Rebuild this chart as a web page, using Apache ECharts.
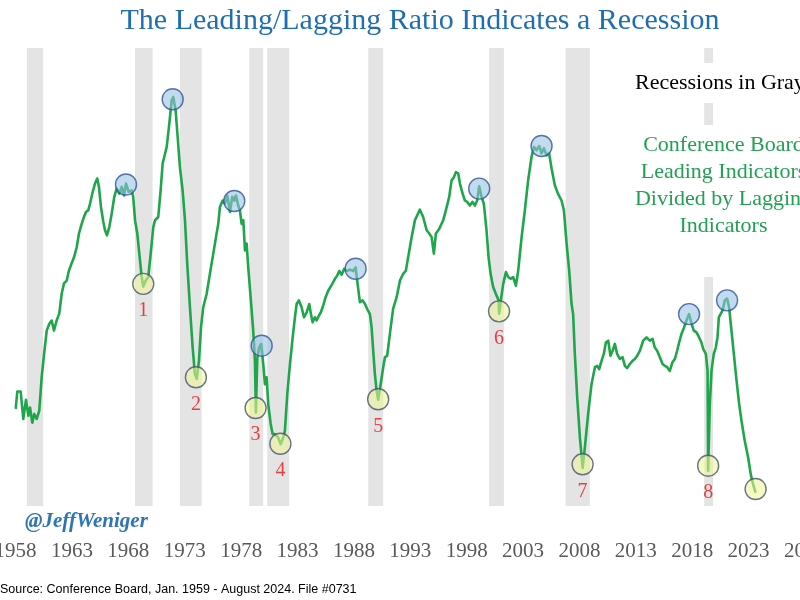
<!DOCTYPE html>
<html>
<head>
<meta charset="utf-8">
<script src="https://cdn.jsdelivr.net/npm/echarts@6/dist/echarts.min.js"></script>
<style>html,body{margin:0;padding:0;background:#fff;}#chart{width:800px;height:600px;}</style>
</head>
<body>
<div id="chart"></div>
<script>
// Axis tick labels as printed under the chart (every 5 years)
const TICK_LABELS = ['1958','1963','1968','1973','1978','1983','1988','1993','1998','2003','2008','2013','2018','2023','2028'];
// First plotted month sits under the first tick label
const X_ORIGIN = 1959;

// Leading / Lagging ratio (relative scale)
const YEARS = [
1959.01,1959.15,1959.45,1959.68,1959.92,1960.13,1960.28,1960.48,1960.66,1960.87,
1961.10,1961.31,1961.54,1961.76,1961.99,1962.20,1962.40,1962.64,1962.87,1963.09,
1963.29,1963.53,1963.73,1963.97,1964.18,1964.42,1964.62,1964.86,1965.06,1965.24,
1965.45,1965.60,1965.84,1966.04,1966.24,1966.39,1966.57,1966.78,1966.93,1967.10,
1967.31,1967.52,1967.75,1967.96,1968.19,1968.41,1968.61,1968.79,1969.03,1969.29,
1969.43,1969.59,1969.79,1969.97,1970.18,1970.32,1970.53,1970.76,1970.98,1971.21,
1971.36,1971.65,1971.86,1972.04,1972.18,1972.40,1972.63,1972.84,1972.98,1973.19,
1973.37,1973.57,1973.81,1974.02,1974.22,1974.46,1974.70,1974.90,1975.06,1975.26,
1975.44,1975.64,1975.94,1976.23,1976.53,1976.77,1976.97,1977.12,1977.36,1977.56,
1977.77,1978.01,1978.21,1978.39,1978.54,1978.74,1978.89,1979.04,1979.19,1979.34,
1979.49,1979.63,1979.84,1980.07,1980.22,1980.31,1980.43,1980.60,1980.78,1980.96,
1981.11,1981.26,1981.40,1981.62,1981.79,1982.00,1982.29,1982.50,1982.73,1982.88,
1983.09,1983.33,1983.57,1983.77,1983.92,1984.12,1984.36,1984.57,1984.81,1985.04,
1985.19,1985.34,1985.54,1985.69,1985.90,1986.07,1986.28,1986.49,1986.72,1986.87,
1987.08,1987.32,1987.52,1987.70,1987.91,1988.14,1988.35,1988.65,1988.94,1989.15,
1989.29,1989.53,1989.77,1989.98,1990.18,1990.42,1990.57,1990.71,1990.86,1991.01,
1991.15,1991.37,1991.60,1991.75,1991.95,1992.19,1992.48,1992.79,1993.08,1993.37,
1993.61,1993.81,1994.12,1994.41,1994.85,1995.14,1995.45,1995.68,1995.89,1996.09,
1996.27,1996.56,1996.92,1997.16,1997.45,1997.66,1997.87,1998.04,1998.25,1998.40,
1998.64,1998.84,1999.04,1999.28,1999.52,1999.73,1999.93,2000.11,2000.32,2000.52,
2000.76,2000.94,2001.12,2001.35,2001.59,2001.83,2001.88,2002.03,2002.24,2002.48,
2002.68,2002.89,2003.12,2003.36,2003.57,2003.87,2004.16,2004.45,2004.75,2004.96,
2005.20,2005.43,2005.64,2005.84,2006.08,2006.31,2006.53,2006.82,2007.11,2007.41,
2007.62,2007.86,2008.09,2008.30,2008.44,2008.59,2008.80,2009.04,2009.28,2009.48,
2009.77,2010.07,2010.37,2010.57,2010.75,2010.96,2011.16,2011.34,2011.55,2011.75,
2011.94,2012.14,2012.34,2012.58,2012.82,2013.03,2013.23,2013.47,2013.71,2013.91,
2014.12,2014.36,2014.65,2014.95,2015.24,2015.48,2015.68,2015.89,2016.13,2016.37,
2016.57,2016.78,2017.01,2017.25,2017.46,2017.66,2017.84,2018.05,2018.28,2018.49,
2018.72,2018.94,2019.14,2019.38,2019.61,2019.82,2019.97,2020.21,2020.36,2020.41,
2020.56,2020.71,2020.91,2021.09,2021.24,2021.36,2021.51,2021.69,2021.89,2022.09,
2022.27,2022.48,2022.69,2022.93,2023.16,2023.37,2023.66,2023.96,2024.19,2024.40,
2024.62
];
const VALUES = [
21.2,25.0,25.0,19.0,23.2,19.7,21.5,18.2,20.1,19.0,
20.8,28.1,33.5,38.3,39.8,40.5,38.3,40.5,42.0,46.4,
48.6,49.2,51.4,53.0,54.3,56.5,59.5,61.6,63.1,64.2,
64.6,66.0,68.6,70.4,71.5,69.7,65.3,62.0,60.2,59.1,
60.9,63.8,67.5,69.3,68.2,69.7,67.8,70.4,68.6,68.9,
67.5,62.4,59.5,55.1,50.0,47.9,49.2,50.0,55.1,60.9,
62.4,63.1,68.9,74.8,76.2,78.4,83.5,88.6,89.3,86.4,
80.6,74.0,68.9,62.4,52.9,43.4,34.6,28.8,27.8,31.7,
39.0,43.4,46.3,50.7,55.1,58.7,61.6,65.3,66.7,66.0,
67.8,64.2,67.5,66.7,67.8,65.6,64.6,61.6,62.4,55.8,
57.3,52.1,45.6,38.3,31.7,20.4,32.2,34.6,35.4,31.0,
26.6,28.1,22.3,17.9,15.7,15.7,14.9,13.5,14.9,16.4,
24.4,31.0,36.8,41.2,44.1,44.9,43.4,41.2,42.3,44.1,
41.9,40.1,41.2,40.5,41.6,42.3,43.8,45.6,47.0,46.7,
48.5,49.6,50.3,51.3,50.5,51.8,51.3,51.6,51.3,52.1,
49.2,44.5,44.9,44.1,43.0,41.9,39.0,33.9,28.8,25.2,
23.2,26.6,30.3,32.5,32.8,37.6,43.1,45.6,49.2,50.7,
51.4,54.3,58.7,62.4,64.7,63.1,60.2,59.5,58.7,55.1,
59.5,60.5,62.4,64.6,67.5,71.1,71.8,72.9,72.6,70.4,
68.2,66.7,66.4,65.6,66.4,65.6,66.7,69.8,67.5,66.0,
60.2,54.3,50.7,47.8,46.3,44.9,42.0,44.9,48.5,51.1,
50.0,49.6,50.0,48.1,51.4,58.7,64.6,71.1,76.2,78.4,
77.7,78.6,77.0,78.1,76.6,77.0,73.7,70.0,68.1,66.7,
64.6,57.3,51.4,44.1,41.9,33.2,23.7,14.9,8.3,12.8,
20.1,26.6,30.3,30.6,29.9,31.7,33.2,35.7,36.1,32.8,
33.9,35.4,33.2,32.1,32.5,30.6,30.1,31.0,31.7,32.1,
32.8,33.9,36.1,36.8,36.1,36.5,34.6,33.9,32.5,31.0,
30.6,30.3,29.5,31.4,32.1,33.9,35.7,37.6,39.0,40.5,
41.9,39.8,38.3,37.9,36.8,35.7,34.3,33.2,29.5,7.7,
22.3,29.5,33.2,34.6,36.8,41.2,41.9,42.7,44.9,45.3,
43.4,38.3,33.2,27.4,22.3,18.6,14.2,10.6,6.9,4.7,
2.9
];

// Recession bands (gray)
const BAND_START = [1960.00, 1969.59, 1973.57, 1979.72, 1981.31, 1990.27, 2000.99, 2007.77, 2020.06];
const BAND_END   = [1961.45, 1971.15, 1975.50, 1980.96, 1983.26, 1991.60, 2002.30, 2009.92, 2020.85];

// Marked peaks (blue circles)
const PEAK_YEARS  = [1968.79, 1972.93, 1978.39, 1980.82, 1989.15, 2000.11, 2005.64, 2018.72, 2022.09];
const PEAK_VALUES = [70.2, 88.8, 66.6, 35.0, 51.8, 69.3, 78.6, 41.9, 44.9];

// Marked troughs (yellow circles) and their numbers
const TROUGH_YEARS  = [1970.32, 1974.99, 1980.28, 1982.48, 1991.15, 2001.87, 2009.28, 2020.41, 2024.62];
const TROUGH_VALUES = [48.5, 28.1, 21.4, 13.6, 23.3, 42.5, 9.1, 8.8, 3.7];
const TROUGH_LABELS = ['1','2','3','4','5','6','7','8',''];

const TITLE = 'The Leading/Lagging Ratio Indicates a Recession';
const NOTE_GRAY = 'Recessions in Gray';
const NOTE_GREEN = ['Conference Board', 'Leading Indicators', 'Divided by Lagging', 'Indicators'];
const HANDLE = '@JeffWeniger';
const SOURCE = 'Source: Conference Board, Jan. 1959 - August 2024. File #0731';

const lineData = YEARS.map((y, i) => [y - X_ORIGIN, VALUES[i]]);
const bandData = BAND_START.map((s, i) => [{ xAxis: s - X_ORIGIN }, { xAxis: BAND_END[i] - X_ORIGIN }]);
const peakData = PEAK_YEARS.map((y, i) => [y - X_ORIGIN, PEAK_VALUES[i]]);
const troughData = TROUGH_YEARS.map((y, i) => ({ value: [y - X_ORIGIN, TROUGH_VALUES[i]], name: TROUGH_LABELS[i] }));

const serif = 'Liberation Serif';
const chart = echarts.init(document.getElementById('chart'), null, { renderer: 'canvas' });
chart.setOption({
  animation: false,
  backgroundColor: '#ffffff',
  grid: { left: 15.6, top: 48, width: 789.4, height: 458, containLabel: false, outerBoundsMode: 'none' },
  xAxis: {
    type: 'value', min: 0, max: 70, interval: 5,
    axisLine: { show: false }, axisTick: { show: false }, splitLine: { show: false },
    axisLabel: {
      show: true, margin: 35, fontFamily: serif, fontSize: 21, color: '#595959',
      showMinLabel: true, showMaxLabel: true, hideOverlap: false,
      formatter: v => TICK_LABELS[Math.round(v / 5)] || ''
    }
  },
  yAxis: { type: 'value', min: 0, max: 100, show: false },
  series: [
    {
      type: 'line', data: lineData, showSymbol: false, symbol: 'none', z: 3,
      lineStyle: { color: '#1fa64a', width: 2.6, join: 'round' },
      markArea: { silent: true, itemStyle: { color: '#e4e4e4' }, data: bandData }
    },
    {
      type: 'scatter', data: peakData, symbol: 'circle', symbolSize: 21, z: 5,
      itemStyle: { color: 'rgba(150,192,228,0.72)', borderColor: '#2f5597', borderWidth: 1.4 }
    },
    {
      type: 'scatter', data: troughData, symbol: 'circle', symbolSize: 21, z: 5,
      itemStyle: { color: 'rgba(240,244,150,0.7)', borderColor: '#44546a', borderWidth: 1.4 },
      label: {
        show: true, position: 'inside', offset: [0, 27],
        formatter: p => p.name, fontFamily: serif, fontSize: 20, color: '#e3161c'
      }
    }
  ],
  graphic: [
    { type: 'rect', z: 50, shape: { x: 612, y: 63, width: 190, height: 40 }, style: { fill: '#ffffff' } },
    { type: 'rect', z: 50, shape: { x: 624, y: 125, width: 178, height: 152 }, style: { fill: '#ffffff' } },
    { type: 'text', z: 60, x: 420, y: 21, style: { text: TITLE, font: '30px "Liberation Serif"', fill: '#1f6eb4', textAlign: 'center', textVerticalAlign: 'middle' } },
    { type: 'text', z: 60, x: 635, y: 83, style: { text: NOTE_GRAY, font: '22px "Liberation Serif"', fill: '#000000', textAlign: 'left', textVerticalAlign: 'middle' } },
    ...NOTE_GREEN.map((t, i) => ({ type: 'text', z: 60, x: 723.5, y: 145 + i * 27.2, style: { text: t, font: '22px "Liberation Serif"', fill: '#22a052', textAlign: 'center', textVerticalAlign: 'middle' } })),
    { type: 'text', z: 60, x: 25, y: 522, style: { text: HANDLE, font: 'italic bold 21px "Liberation Serif"', fill: '#2e75b6', textAlign: 'left', textVerticalAlign: 'middle' } },
    { type: 'text', z: 60, x: 0, y: 590, style: { text: SOURCE, font: '12.5px "Liberation Sans"', fill: '#000000', textAlign: 'left', textVerticalAlign: 'middle' } }
  ]
});
</script>
</body>
</html>
